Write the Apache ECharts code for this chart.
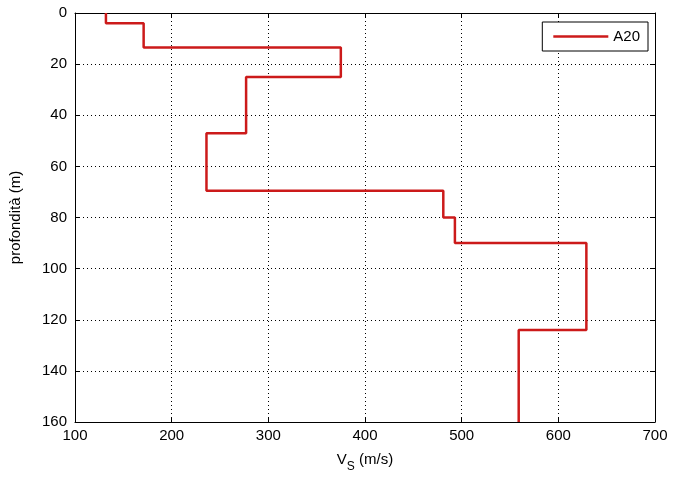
<!DOCTYPE html>
<html>
<head>
<meta charset="utf-8">
<script src="https://cdn.jsdelivr.net/npm/echarts@6/dist/echarts.min.js"></script>
<style>html,body{margin:0;padding:0;background:#fff}#c{width:686px;height:478px}</style>
</head>
<body>
<div id="c"></div>
<script>
// Layer velocities (m/s), top to bottom
const velocities = [132, 171, 375, 277, 236, 481, 493, 629, 559];
// Layer boundaries (depth, m)
const boundaries = [0, 4, 13.5, 25, 47, 69.5, 80, 90, 124, 160];
const xTicks = [100, 200, 300, 400, 500, 600, 700];
const yTicks = [0, 20, 40, 60, 80, 100, 120, 140, 160];
const seriesName = 'A20';

const profile = [];
for (let i = 0; i < velocities.length; i++) {
  profile.push([velocities[i], boundaries[i]]);
  profile.push([velocities[i], boundaries[i + 1]]);
}

const font = 'Liberation Sans, Arial, sans-serif';
const chart = echarts.init(document.getElementById('c'), null, {renderer: 'canvas'});
const axisBase = {
  type: 'value',
  axisLine: {show: true, onZero: false, lineStyle: {color: '#000', width: 1}},
  axisTick: {show: true, inside: true, length: 5, lineStyle: {color: '#000'}},
};
chart.setOption({
  animation: false,
  backgroundColor: '#fff',
  grid: {left: 74, right: 31, top: 13, bottom: 49, containLabel: false},
  legend: {
    data: [{name: seriesName, icon: 'rect'}], right: 38, top: 22,
    padding: [7, 8, 7, 11], itemWidth: 55, itemHeight: 2.5, itemGap: 6,
    borderColor: '#000', borderWidth: 1, backgroundColor: '#fff',
    textStyle: {fontFamily: font, fontSize: 15, color: '#000'}
  },
  xAxis: [
    Object.assign({}, axisBase, {
      min: xTicks[0], max: xTicks[xTicks.length - 1], interval: 100, position: 'bottom',
      axisLabel: {color: '#000', fontFamily: font, fontSize: 15, margin: 6},
      splitLine: {show: true, lineStyle: {color: '#000', type: [1, 3], width: 1}},
      name: '{v|V}{s|S}{v| (m/s)}', nameLocation: 'middle', nameGap: 30,
      nameTextStyle: {
        rich: {
          v: {fontFamily: font, fontSize: 15, color: '#000', verticalAlign: 'top', lineHeight: 22},
          s: {fontFamily: font, fontSize: 12, color: '#000', verticalAlign: 'top', lineHeight: 22, padding: [9, 0, 0, 0]}
        }
      }
    }),
    Object.assign({}, axisBase, {
      min: xTicks[0], max: xTicks[xTicks.length - 1], interval: 100, position: 'top',
      axisLabel: {show: false}, splitLine: {show: false}
    })
  ],
  yAxis: [
    Object.assign({}, axisBase, {
      min: yTicks[0], max: yTicks[yTicks.length - 1], interval: 20, inverse: true, position: 'left',
      axisLabel: {color: '#000', fontFamily: font, fontSize: 15, margin: 8},
      splitLine: {show: true, lineStyle: {color: '#000', type: [1, 3], width: 1}},
      name: 'profondità (m)', nameLocation: 'middle', nameGap: 52, nameRotate: 90,
      nameTextStyle: {fontFamily: font, fontSize: 15, color: '#000'}
    }),
    Object.assign({}, axisBase, {
      min: yTicks[0], max: yTicks[yTicks.length - 1], interval: 20, inverse: true, position: 'right',
      axisLabel: {show: false}, splitLine: {show: false}
    })
  ],
  series: [{
    name: seriesName, type: 'line', data: profile, symbol: 'none',
    lineStyle: {color: '#cc1a1a', width: 2.5}, itemStyle: {color: '#cc1a1a'},
    xAxisIndex: 0, yAxisIndex: 0
  }]
});
</script>
</body>
</html>
